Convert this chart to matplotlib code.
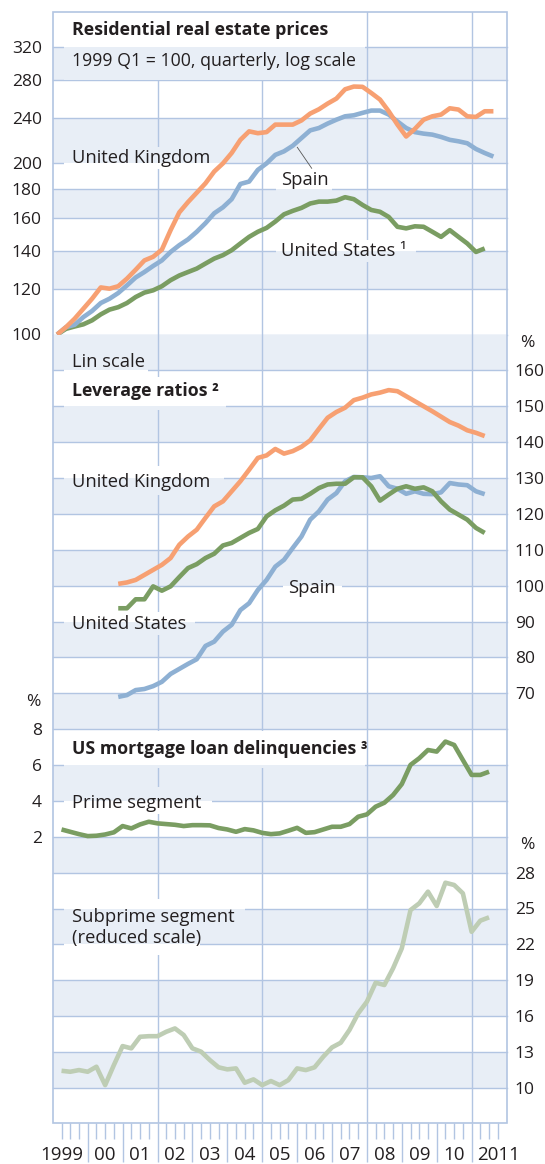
import matplotlib
matplotlib.use("Agg")

import matplotlib.pyplot as plt
import pandas as pd
from matplotlib.lines import Line2D
from matplotlib.patches import Rectangle
from matplotlib.ticker import FixedLocator, NullLocator
from matplotlib.transforms import blended_transform_factory

plt.rcParams["font.family"] = ["Open Sans", "DejaVu Sans"]

# ---- data ----
# residential real estate prices, 1999 Q1 = 100, quarterly from 1999 Q1
uk_prices = [100, 103, 106.6, 111, 115.6, 121, 120.4, 121.6, 125.4, 130, 135, 137, 141,
             152.6, 164, 171, 177.6, 184.5, 193.5, 200, 208.6, 220, 227.7, 226, 227, 234,
             234, 234, 238, 244.7, 249, 254.8, 260, 270, 273, 272.7, 266, 259, 247, 234,
             223, 230, 238.7, 242, 243.7, 250, 248.7, 242, 241.4, 247, 247]
es_prices = [100, 103, 104, 107.3, 110, 113.6, 115.6, 118.3, 122, 126, 128.8, 132, 135,
             139.7, 143.6, 147, 151.6, 157, 163.4, 167.4, 173, 184, 185.8, 194.8, 200, 207,
             210, 214.8, 221.6, 228.6, 230.8, 235, 238.7, 242, 243, 245.4, 247.7, 247.7,
             243.7, 237, 230.8, 227, 225.6, 224.7, 222.6, 220, 218.7, 217, 212, 208.6, 205.6]
us_prices = [100, 102.3, 103.3, 104.2, 105.9, 108.5, 110.6, 111.7, 113.6, 116.4, 118.5,
             119.6, 121.6, 124.6, 127, 128.8, 130.6, 133.3, 136, 137.9, 140.7, 144.6, 148.5,
             151.6, 154, 158, 162.7, 165, 167, 170, 171.3, 171.3, 172, 174.4, 173, 169,
             165.6, 164.4, 161, 154.7, 153.7, 155, 154.7, 151.6, 148.5, 152.6, 148.5, 144.6,
             139.7, 141.7]

# leverage ratios, %, quarterly from 2000 Q4
uk_lev = [100.5, 100.9, 101.6, 103, 104.4, 105.8, 107.7, 111.4, 113.7, 115.6, 118.9, 122.1,
          123.5, 126.3, 129.1, 132.3, 135.6, 136.3, 138.1, 136.8, 137.5, 138.7, 140.5, 143.7,
          146.8, 148.4, 149.6, 151.7, 152.4, 153.3, 153.8, 154.5, 154.2, 152.8, 151.4, 150,
          148.6, 147.1, 145.6, 144.6, 143.3, 142.6, 141.7]
us_lev = [93.7, 93.7, 96.2, 96.2, 99.8, 98.6, 99.8, 102.4, 104.9, 106, 107.7, 108.9, 111.2,
          111.9, 113.3, 114.7, 115.8, 119.3, 121, 122.3, 124, 124.2, 125.6, 127.2, 128.2,
          128.4, 128.4, 130.2, 130.2, 127.7, 123.7, 125.4, 127, 127.7, 127, 127.4, 126.3,
          123.5, 121.2, 119.8, 118.4, 116.1, 114.7]
es_lev = [69, 69.5, 70.9, 71.2, 72, 73.2, 75.4, 76.8, 78.2, 79.5, 83.2, 84.4, 87.2, 89.1,
          93.2, 95.1, 98.8, 101.6, 105.3, 107.2, 110.5, 113.7, 118.4, 120.7, 124, 125.8,
          129.1, 130.3, 130.2, 130, 130.5, 127.7, 127, 125.6, 126.3, 125.6, 125.5, 126,
          128.6, 128.2, 128, 126.3, 125.5]

# US mortgage delinquencies, %, quarterly from 1999 Q1
prime = [2.41, 2.28, 2.15, 2.04, 2.06, 2.13, 2.25, 2.60, 2.47, 2.69, 2.84, 2.75, 2.71, 2.67,
         2.60, 2.65, 2.65, 2.64, 2.49, 2.41, 2.28, 2.43, 2.36, 2.22, 2.15, 2.19, 2.34, 2.50,
         2.22, 2.26, 2.41, 2.56, 2.56, 2.71, 3.12, 3.25, 3.68, 3.90, 4.33, 4.94, 6.01, 6.38,
         6.84, 6.75, 7.31, 7.12, 6.28, 5.45, 5.45, 5.63]
subprime = [11.4, 11.32, 11.46, 11.32, 11.74, 10.2, 11.88, 13.47, 13.28, 14.25, 14.3, 14.3,
            14.67, 14.95, 14.4, 13.28, 13.0, 12.3, 11.69, 11.52, 11.6, 10.4, 10.68, 10.2,
            10.54, 10.2, 10.62, 11.6, 11.46, 11.69, 12.58, 13.36, 13.75, 14.82, 16.21, 17.19,
            18.78, 18.59, 19.99, 21.66, 24.87, 25.43, 26.41, 25.21, 27.16, 26.97, 26.27,
            23.05, 23.98, 24.26]

price_ticks = [100, 120, 140, 160, 180, 200, 240, 280, 320]
lev_ticks = [70, 80, 90, 100, 110, 120, 130, 140, 150, 160]
prime_ticks = [2, 4, 6, 8]
sub_ticks = [10, 13, 16, 19, 22, 25, 28]
year_labels = ["1999", "00", "01", "02", "03", "04", "05", "06", "07", "08", "09", "10", "2011"]

# ---- style ----
ORANGE = "#F7A072"
BLUE = "#8EB0D3"
GREEN = "#7A9D62"
LIGHT_GREEN = "#BECDB4"
BAND = "#E8EEF6"
GRID = "#B2C5E2"
TEXT = "#231F20"
TXT_SIZE = 13.2
TICK_SIZE = 12.5

W, H = 545, 1164
fig = plt.figure(figsize=(W / 100, H / 100), dpi=100)


def fx(px):
    return px / W


def fy(py):
    return 1 - py / H


def quarters(start, n, offset):
    p = pd.period_range(start, periods=n, freq="Q")
    return p.year + (p.quarter - 1) / 4 + offset


FRAME_L, FRAME_R = 52.8, 506.5
FRAME_T, FRAME_B = 11.7, 1123.3


def add_panel(top, bottom, ylim, ticks, bands, log=False):
    ax = fig.add_axes([fx(FRAME_L), fy(bottom), fx(FRAME_R) - fx(FRAME_L), fy(top) - fy(bottom)])
    ax.patch.set_visible(False)
    if log:
        ax.set_yscale("log")
    ax.set_xlim(1999, 2012)
    ax.set_ylim(*ylim)
    for s in ax.spines.values():
        s.set_visible(False)
    for lo, hi in bands:
        ax.axhspan(lo, hi, fc=BAND, lw=0, zorder=0.5)
    for v in ticks:
        ax.axhline(v, color=GRID, lw=1, zorder=1, clip_on=False)
    for yr in (2002, 2005, 2008, 2011):
        ax.axvline(yr, color=GRID, lw=1, zorder=1)
    ax.set_xticks([])
    ax.set_yticks(ticks)
    ax.set_yticklabels([str(t) for t in ticks])
    ax.yaxis.set_minor_locator(NullLocator())
    ax.tick_params(axis="y", length=0, labelsize=TICK_SIZE, labelcolor=TEXT, pad=8)
    ax._bands = bands
    return ax


def knockout(ax, x0, x1, y0, y1):
    # hide grid lines behind a label, keep the band colours
    rect = Rectangle((fx(x0), fy(y1)), fx(x1) - fx(x0), fy(y0) - fy(y1),
                     transform=fig.transFigure, fc="white", ec="none", zorder=1.5)
    ax.add_artist(rect)
    for lo, hi in ax._bands:
        sp = ax.axhspan(lo, hi, fc=BAND, lw=0, zorder=1.6)
        sp.set_clip_path(rect)


def label(x, y, s, bold=False, size=TXT_SIZE):
    fig.text(fx(x), fy(y), s, ha="left", va="baseline", fontsize=size,
             fontweight="bold" if bold else "normal", color=TEXT)


ax_p = add_panel(FRAME_T, 334.5, (100, 369.7), price_ticks,
                 [(120, 140), (160, 180), (200, 240), (280, 320)], log=True)
ax_l = add_panel(334.5, 693.3, (70, 170), lev_ticks,
                 [(160, 170), (140, 150), (120, 130), (100, 110), (80, 90)])
ax_pr = add_panel(693.3, 872.7, (0, 10), prime_ticks, [(8, 10), (4, 6), (0, 2)])
ax_s = add_panel(872.7, FRAME_B, (7, 28), sub_ticks, [(22, 25), (16, 19), (10, 13)])
# the Spanish leverage line dips just below 70, so draw that panel last
ax_l.set_zorder(0.5)

ax_l.yaxis.tick_right()
ax_s.yaxis.tick_right()
ax_l.tick_params(axis="y", pad=6)
ax_s.tick_params(axis="y", pad=6)

lw = 3.3
kw = dict(lw=lw, zorder=3, clip_on=False, solid_capstyle="butt")
ax_p.plot(quarters("1999Q1", len(us_prices), 0.125), us_prices, color=GREEN, **kw)
ax_p.plot(quarters("1999Q1", len(es_prices), 0.125), es_prices, color=BLUE, **kw)
ax_p.plot(quarters("1999Q1", len(uk_prices), 0.125), uk_prices, color=ORANGE, **kw)

ax_l.plot(quarters("2000Q4", len(es_lev), 0.125), es_lev, color=BLUE, **kw)
ax_l.plot(quarters("2000Q4", len(us_lev), 0.125), us_lev, color=GREEN, **kw)
ax_l.plot(quarters("2000Q4", len(uk_lev), 0.125), uk_lev, color=ORANGE, **kw)

ax_pr.plot(quarters("1999Q1", len(prime), 0.25), prime, color=GREEN, **kw)
ax_s.plot(quarters("1999Q1", len(subprime), 0.25), subprime, color=LIGHT_GREEN, **kw)

# label knockouts
knockout(ax_p, 64, 365, FRAME_T + 0.5, 80)
knockout(ax_p, 64, 222, 147, 169)
knockout(ax_p, 276, 332, 170, 191)
knockout(ax_p, 276, 416, 240, 262)
knockout(ax_l, 64, 148, 345, 377)
knockout(ax_l, 64, 226, 377, 410)
knockout(ax_l, 64, 224, 466, 495)
knockout(ax_l, 283, 342, 575, 599)
knockout(ax_l, 64, 195, 612, 635)
knockout(ax_pr, 64, 365, 731, 768)
knockout(ax_pr, 64, 212, 787, 814)
knockout(ax_s, 64, 245, 899, 930)
knockout(ax_s, 64, 200, 930, 955)

label(72, 35, "Residential real estate prices", bold=True, size=12.8)
label(72, 65.7, "1999 Q1 = 100, quarterly, log scale", size=12.8)
label(72, 163.3, "United Kingdom")
label(281, 185, "Spain")
label(281, 256, "United States ¹")
label(72, 367.3, "Lin scale")
label(72, 396, "Leverage ratios ²", bold=True, size=12.8)
label(72, 486.7, "United Kingdom")
label(288, 592.7, "Spain")
label(72, 629.3, "United States")
label(72, 754.3, "US mortgage loan delinquencies ³", bold=True, size=12.8)
label(72, 808.3, "Prime segment")
label(72, 921.7, "Subprime segment")
label(72, 943, "(reduced scale)")

fig.add_artist(Line2D([fx(297.3), fx(311.7)], [fy(147.3), fy(168.3)],
                      transform=fig.transFigure, color="#555555", lw=0.6))

for px, py in ((527, 343), (33, 702), (527, 845)):
    fig.text(fx(px), fy(py), "%", ha="center", va="center", fontsize=TICK_SIZE, color=TEXT)

# outer frame
fig.add_artist(Rectangle((fx(FRAME_L), fy(FRAME_B)), fx(FRAME_R) - fx(FRAME_L),
                         fy(FRAME_T) - fy(FRAME_B), transform=fig.transFigure,
                         fill=False, ec=GRID, lw=1.2, zorder=5))

# x axis: quarter ticks and year separators
ax_s.xaxis.set_major_locator(FixedLocator(list(range(2000, 2012))))
ax_s.xaxis.set_minor_locator(FixedLocator([y + q / 4 for y in range(1999, 2012) for q in (1, 2, 3)]))
ax_s.tick_params(axis="x", which="major", length=28, width=1, color=GRID,
                 labelbottom=False, direction="out")
ax_s.tick_params(axis="x", which="minor", length=11.5, width=1, color=GRID, direction="out")

trans = blended_transform_factory(ax_s.transData, fig.transFigure)
years = list(range(1999, 2012))
for yr, txt in zip(years, year_labels):
    if yr == 1999:
        x, ha = yr + 0.88, "right"
    elif yr == 2011:
        x, ha = yr + 0.15, "left"
    else:
        x, ha = yr + 0.5, "center"
    ax_s.text(x, fy(1155), txt, transform=trans, ha=ha, va="center",
              fontsize=13.5, color=TEXT, clip_on=False)

fig.savefig("out.png", dpi=100)
plt.close(fig)
